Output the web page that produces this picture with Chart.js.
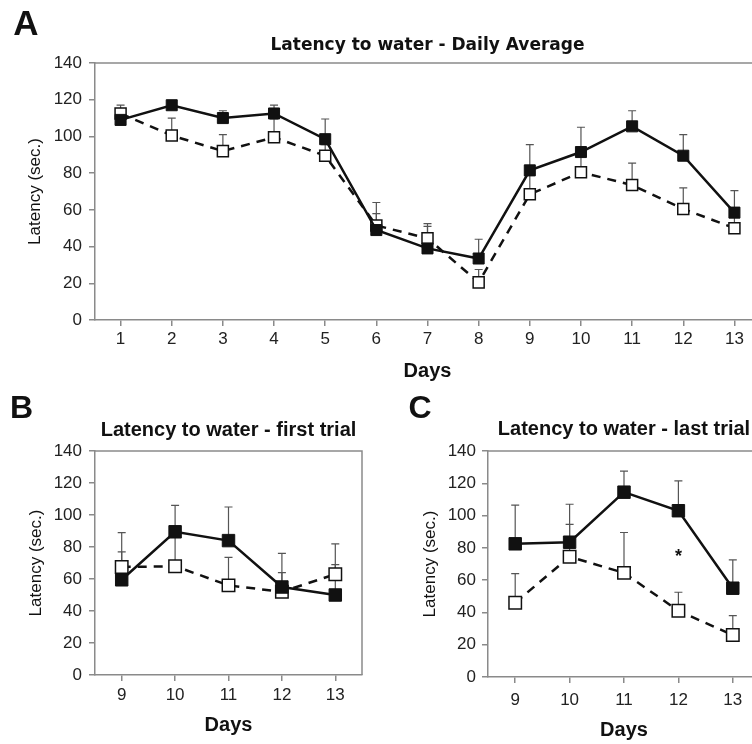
<!DOCTYPE html>
<html>
<head>
<meta charset="utf-8">
<script src="https://cdn.jsdelivr.net/npm/chart.js@4.4.1/dist/chart.umd.min.js"></script>
<style>
  body { margin: 0; background: #fff; }
  #wrap { position: relative; width: 752px; height: 744px; overflow: hidden; background: #fff; }
  #wrap canvas { position: absolute; }
</style>
</head>
<body>
<div id="wrap">
  <canvas id="chartA" width="770" height="385" style="left:0;top:0"></canvas>
  <canvas id="chartB" width="376" height="359" style="left:0;top:385px"></canvas>
  <canvas id="chartC" width="400" height="359" style="left:376px;top:385px"></canvas>
</div>
<script>
const FONT = 'Arial, "Liberation Sans", Helvetica, sans-serif';

// A - daily average, days 1-13
const daysAll = ['1', '2', '3', '4', '5', '6', '7', '8', '9', '10', '11', '12', '13'];
const dailyFilled = [109, 117, 110, 112.5, 98.5, 49, 39, 33.5, 81.5, 91.5, 105.5, 89.5, 58.5];
const dailyFilledErr = [5, 2, 4, 4.5, 11, 9, 12, 10.5, 14, 13.5, 8.5, 11.5, 12];
const dailyOpen = [112.5, 100.5, 92, 99.5, 89.5, 51.5, 44.5, 20.5, 68.5, 80.5, 73.5, 60.5, 50];
const dailyOpenErr = [4.5, 9.5, 9, 10, 6, 12.5, 8, 7, 12, 9, 12, 11.5, 6];

// B - first trial, days 9-13
const daysLate = ['9', '10', '11', '12', '13'];
const firstFilled = [59.5, 89.5, 84, 55, 50];
const firstFilledErr = [17.5, 16.5, 21, 21, 19];
const firstOpen = [67.5, 68, 56, 52, 63];
const firstOpenErr = [21.5, 18, 17.5, 12, 19];

// C - last trial, days 9-13
const lastFilled = [82.5, 83.5, 114.5, 103, 55];
const lastFilledErr = [24, 23.5, 13, 18.5, 17.5];
const lastOpen = [46, 74.5, 64.5, 41, 26];
const lastOpenErr = [18, 20, 25, 11.5, 12];
// significance mark in C
const lastStarDay = '12';
const lastStarValue = 77;

// frame, upper error bars, panel letter and asterisk
const panelDecor = {
    id: 'panelDecor',
    beforeDatasetsDraw(chart) {
        const { ctx, chartArea: a } = chart;
        const yScale = chart.scales.y;
        ctx.save();
        ctx.strokeStyle = '#8a8a8a';
        ctx.lineWidth = 1.5;
        ctx.beginPath();
        ctx.moveTo(a.left, a.top);
        ctx.lineTo(a.right, a.top);
        ctx.lineTo(a.right, a.bottom);
        ctx.stroke();

        ctx.strokeStyle = '#555';
        ctx.lineWidth = 1.2;
        chart.data.datasets.forEach((ds, i) => {
            if (!ds.errorBars) return;
            chart.getDatasetMeta(i).data.forEach((pt, j) => {
                const top = yScale.getPixelForValue(ds.data[j] + ds.errorBars[j]);
                ctx.beginPath();
                ctx.moveTo(pt.x, pt.y);
                ctx.lineTo(pt.x, top);
                ctx.moveTo(pt.x - 4, top);
                ctx.lineTo(pt.x + 4, top);
                ctx.stroke();
            });
        });
        ctx.restore();
    },
    afterDraw(chart, args, opts) {
        const ctx = chart.ctx;
        ctx.save();
        ctx.fillStyle = '#111';
        ctx.textAlign = 'center';
        ctx.textBaseline = 'middle';
        if (opts.letter) {
            ctx.font = 'bold ' + opts.letterSize + 'px ' + FONT;
            ctx.fillText(opts.letter, opts.letterX, opts.letterY);
        }
        if (opts.starDay) {
            const x = chart.scales.x.getPixelForValue(chart.data.labels.indexOf(opts.starDay));
            const y = chart.scales.y.getPixelForValue(opts.starValue);
            ctx.font = 'bold 18px ' + FONT;
            ctx.fillText('*', x, y + 4);
        }
        ctx.restore();
    }
};

function makePanel(id, cfg) {
    const axisGrid = { drawOnChartArea: false, drawTicks: true, tickLength: 6, color: '#8a8a8a', lineWidth: 1.5 };
    return new Chart(document.getElementById(id), {
        type: 'line',
        data: {
            labels: cfg.labels,
            datasets: [{
                label: 'filled',
                data: cfg.filled,
                errorBars: cfg.filledErr,
                borderColor: '#111',
                borderWidth: 2.5,
                pointStyle: 'rect',
                pointRadius: cfg.marker,
                pointBackgroundColor: '#111',
                pointBorderColor: '#111',
                pointBorderWidth: 1
            }, {
                label: 'open',
                data: cfg.open,
                errorBars: cfg.openErr,
                borderColor: '#111',
                borderWidth: 2.5,
                borderDash: [9, 7],
                pointStyle: 'rect',
                pointRadius: cfg.marker,
                pointBackgroundColor: '#fff',
                pointBorderColor: '#111',
                pointBorderWidth: 1.5
            }]
        },
        options: {
            responsive: false,
            animation: false,
            devicePixelRatio: 1,
            layout: { padding: { left: 0, right: cfg.padRight, top: 0, bottom: 0 } },
            plugins: {
                legend: { display: false },
                tooltip: { enabled: false },
                title: {
                    display: true,
                    text: cfg.title,
                    fullSize: false,
                    color: '#111',
                    font: { family: cfg.titleFont, size: cfg.titleSize, weight: 'bold' },
                    padding: { top: cfg.titleTop, bottom: cfg.titleBottom }
                },
                panelDecor: cfg.decor
            },
            scales: {
                x: {
                    offset: true,
                    grid: Object.assign({ offset: false }, axisGrid),
                    border: { color: '#8a8a8a', width: 1.5 },
                    ticks: { color: '#222', font: { family: FONT, size: 17 }, padding: cfg.xTickPad, maxRotation: 0, autoSkip: false },
                    title: {
                        display: true, text: 'Days', color: '#111',
                        font: { family: FONT, size: 20, weight: 'bold' },
                        padding: { top: 0, bottom: cfg.daysPad }
                    },
                    afterFit: s => { s.height = cfg.xHeight; }
                },
                y: {
                    min: 0,
                    max: 140,
                    grid: axisGrid,
                    border: { color: '#8a8a8a', width: 1.5 },
                    ticks: { stepSize: 20, color: '#222', font: { family: FONT, size: 17 }, padding: cfg.yTickPad },
                    title: {
                        display: true, text: 'Latency (sec.)', color: '#111',
                        font: { family: FONT, size: 17 },
                        padding: { top: cfg.yTitlePad, bottom: 0 }
                    },
                    afterFit: s => { s.width = cfg.yWidth; }
                }
            }
        },
        plugins: [panelDecor]
    });
}

makePanel('chartA', {
    labels: daysAll, filled: dailyFilled, filledErr: dailyFilledErr, open: dailyOpen, openErr: dailyOpenErr,
    marker: 7.8, padRight: 10,
    title: 'Latency to water - Daily Average', titleFont: '"DejaVu Sans", ' + FONT, titleSize: 17, titleTop: 35, titleBottom: 7.6,
    xTickPad: 3, daysPad: 2, xHeight: 65,
    yTickPad: 7, yTitlePad: 24.8, yWidth: 95,
    decor: { letter: 'A', letterSize: 35, letterX: 26, letterY: 25 }
});

makePanel('chartB', {
    labels: daysLate, filled: firstFilled, filledErr: firstFilledErr, open: firstOpen, openErr: firstOpenErr,
    marker: 8.8, padRight: 14,
    title: 'Latency to water - first trial', titleFont: FONT, titleSize: 20, titleTop: 33, titleBottom: 9,
    xTickPad: 4, daysPad: 6.5, xHeight: 69,
    yTickPad: 7, yTitlePad: 25.8, yWidth: 95,
    decor: { letter: 'B', letterSize: 32, letterX: 21.5, letterY: 24 }
});

makePanel('chartC', {
    labels: daysLate, filled: lastFilled, filledErr: lastFilledErr, open: lastOpen, openErr: lastOpenErr,
    marker: 8.8, padRight: 16,
    title: 'Latency to water - last trial', titleFont: FONT, titleSize: 20, titleTop: 32.7, titleBottom: 9.3,
    xTickPad: 7, daysPad: 1.3, xHeight: 67,
    yTickPad: 6, yTitlePad: 43.8, yWidth: 112,
    decor: { letter: 'C', letterSize: 32, letterX: 44, letterY: 24.5, starDay: lastStarDay, starValue: lastStarValue }
});
</script>
</body>
</html>
